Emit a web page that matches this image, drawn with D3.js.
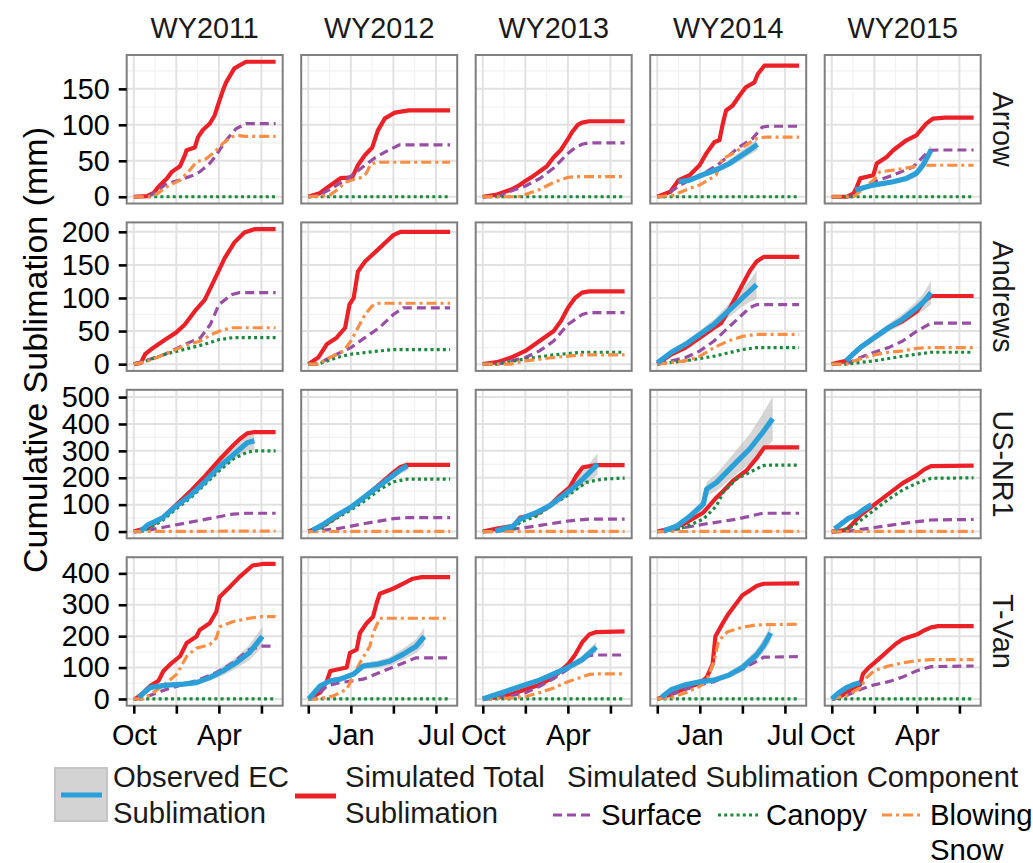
<!DOCTYPE html>
<html><head><meta charset="utf-8">
<script src="https://cdn.jsdelivr.net/npm/d3@7"></script>
<style>
body{margin:0;background:#fff}
text{font-family:"Liberation Sans",Arial,Helvetica,sans-serif}
</style>
</head><body>
<svg id="chart" width="1033" height="863"></svg>
<script>
// Facets: sites (rows) x water years (columns)
const sites = ["Arrow", "Andrews", "US-NR1", "T-Van"];
const years = ["WY2011", "WY2012", "WY2013", "WY2014", "WY2015"];
// x values are months since 1 October
const monthTicks = [0, 3, 6, 9];
const monthLabels = ["Oct", "Jan", "Apr", "Jul"];
const yTicks = [[0, 50, 100, 150], [0, 50, 100, 150, 200], [0, 100, 200, 300, 400, 500], [0, 100, 200, 300, 400]];

// Simulated total sublimation (mm), [month, value] per water year
const totalArrow = [
  [[0,0],[0.93,1],[1.4,5.5],[1.74,13.8],[2.33,25.5],[2.68,34.6],[3.26,42.5],[3.6,57.6],[3.72,64.6],[4.3,68.4],[4.53,83],[4.88,93.2],[5.35,101.5],[5.7,113],[5.93,127],[6.28,147.6],[6.51,159],[7.09,178.5],[7.91,187.7],[10,187.7]],
  [[0,0],[0.8,5],[1.57,16],[2.3,26],[3.1,27],[3.5,44],[4,58],[4.5,68],[4.9,92],[5.4,109],[6.1,117],[7.1,120],[10,120]],
  [[0,0],[1,3],[2,10],[2.5,15],[3,22],[3.5,28],[4,35],[4.5,42],[5,55],[5.5,65],[6,80],[6.3,90],[6.7,100],[7,103],[7.5,105],[10,105]],
  [[0,0],[0.92,6.9],[1.5,23.1],[2.28,30],[2.98,43.8],[3.45,60],[4.03,76.1],[4.38,78.5],[4.62,101.6],[4.85,120],[5.32,126.9],[5.8,140.7],[6.24,152.2],[6.85,159.1],[7.09,170.7],[7.55,182.2],[10,182.2]],
  [[0,0],[1.07,0],[1.54,4.7],[1.77,13.8],[2,25.5],[2.93,30],[3.17,46.2],[3.87,55.4],[4.33,64.6],[5.26,78.5],[5.96,85.4],[6.66,101.6],[7.12,108.5],[8,110],[10,110]]
];
const totalAndrews = [
  [[0,0],[0.5,2],[0.8,15],[1.2,22],[2.2,37],[3,48],[3.6,60],[4.3,80],[5,97],[5.7,128],[6.4,160],[7.1,184],[7.8,199],[8.5,204],[10,204]],
  [[0,0],[0.7,10],[1.3,30],[2,40],[2.6,55],[2.9,90],[3.2,100],[3.5,140],[4,155],[4.5,165],[5,175],[5.5,185],[6,195],[6.5,200],[10,200]],
  [[0,0],[1,3],[2,10],[3,20],[4,35],[5,50],[5.5,65],[6,85],[6.5,100],[7,108],[7.5,110],[10,110]],
  [[0,0],[1,15],[2,25],[3,40],[4,55],[4.5,62],[5,80],[5.5,100],[6,120],[6.5,140],[7,155],[7.5,162],[10,162]],
  [[0,0],[1,5],[2,25],[3,40],[4,55],[5,65],[6,80],[6.5,95],[7,103],[10,103]]
];
const totalNR1 = [
  [[0,0],[1,15],[2,50],[3,100],[4,150],[5,205],[6,265],[7,320],[7.5,345],[8,365],[8.5,370],[10,370]],
  [[0,0],[1,20],[2,55],[3,90],[4,130],[5,175],[6,220],[6.5,240],[7,248],[10,248]],
  [[0,0],[1,11],[2.16,21],[2.63,52],[3.8,65],[4.72,96],[5.42,133],[6.12,164],[6.59,207],[7.05,239],[7.98,247],[10,247]],
  [[0,0],[0.92,11],[1.85,27],[3.25,71],[4.18,127],[4.65,151],[5.34,189],[6.27,226],[6.97,270],[7.55,313],[10,313]],
  [[0,0],[1,5],[1.5,30],[2,60],[3,100],[4,140],[5,180],[6,210],[6.5,230],[7,243],[10,245]]
];
const totalTVan = [
  [[0,0],[0.12,0],[0.7,21],[1.17,42],[1.74,58],[2.09,89],[2.56,110],[3.26,136],[3.73,178],[4.42,199],[4.65,220],[5.35,241],[5.82,278],[6.05,325],[6.75,356],[7.44,388],[8.37,425],[9.07,430],[10,430]],
  [[0,0],[0.85,21],[1.32,58],[1.55,89],[2.71,100],[2.94,147],[3.41,157],[3.64,210],[4.11,241],[4.57,262],[4.81,304],[5.04,335],[5.97,351],[6.9,372],[7.37,383],[8,388],[10,388]],
  [[0,0],[1,5],[2,15],[3,30],[4,45],[5,70],[6,110],[6.5,140],[7,180],[7.5,205],[8,213],[10,215]],
  [[0,0],[1,15],[2,35],[3,50],[3.5,70],[3.9,110],[4.1,200],[4.6,240],[5,270],[5.5,300],[6,330],[6.5,345],[7,360],[7.5,367],[10,368]],
  [[0,0],[0.5,5],[1,20],[1.5,35],[2,45],[2.2,80],[2.6,100],[3,115],[3.5,135],[4,155],[4.5,175],[5,190],[5.5,198],[6,205],[6.5,218],[7,228],[7.5,232],[10,232]]
];

// Surface sublimation component
const surfaceArrow = [
  [[0,0],[1,0],[1.4,4.7],[2.33,18.5],[3.26,23.1],[4.19,30],[4.65,34.6],[5.35,46.2],[5.81,57.7],[6.51,78.5],[7.21,94.6],[7.91,101.6],[10,101.6]],
  [[0,0],[0.7,2],[1.5,10],[2.6,23],[3.3,33],[4,44],[4.7,54],[5.4,62],[6.4,72],[10,72]],
  [[0,0],[1,0],[2,8],[3,15],[4,25],[5,40],[6,60],[6.5,68],[7,73],[7.5,75],[10,75]],
  [[0,0],[0.5,0],[1.5,15],[2.28,23.1],[3.45,34.6],[4.38,46.2],[5.08,57.7],[5.78,69.2],[6.71,80.8],[7.4,96.9],[7.8,98],[10,98]],
  [[0,0],[1.4,0],[1.65,4.7],[2.93,20.8],[4.33,30],[5.73,41.5],[6.89,64.6],[7.5,65],[10,65]]
];
const surfaceAndrews = [
  [[0,0],[0.8,5],[2.2,15],[3.6,30],[4.7,40],[5.4,60],[6,90],[6.9,105],[7.4,108],[10,108]],
  [[0,0],[0.7,0],[1.5,10],[3,25],[4,40],[5,55],[6,75],[6.7,85],[10,85]],
  [[0,0],[1,0],[3,10],[4,20],[5,35],[6,60],[7,75],[7.5,78],[10,78]],
  [[0,0],[2,10],[3,20],[4,35],[5,55],[6,75],[6.5,85],[7,90],[10,90]],
  [[0,0],[1,0],[2,10],[3,18],[4,25],[5,35],[6,50],[7,62],[10,62]]
];
const surfaceNR1 = [
  [[0,0],[0.5,0],[2,15],[4,35],[6,55],[7,65],[8,68],[10,68]],
  [[0,0],[2,10],[4,30],[6,48],[7,52],[10,52]],
  [[0,0],[0.89,0],[3.8,21],[6.12,40],[7.51,46],[10,46]],
  [[0,0],[0.56,2],[3.25,27],[5.58,46],[7.44,68],[10,68]],
  [[0,0],[1,0],[3,15],[5,30],[7,43],[10,45]]
];
const surfaceTVan = [
  [[0,0],[0.47,0],[2.33,31],[4.42,58],[5.82,84],[6.98,115],[8.14,157],[9.07,168],[10,168]],
  [[0,0],[0.38,0],[1.32,42],[2.25,52],[3.87,63],[5.04,84],[6.44,110],[7.6,131],[10,131]],
  [[0,0],[2,10],[3,20],[4,40],[5,65],[6,95],[7,125],[7.5,138],[8,140],[10,140]],
  [[0,0],[2,30],[3,45],[4,55],[5,75],[6,95],[7,120],[7.5,133],[10,135]],
  [[0,0],[1,10],[2,30],[3,45],[4,55],[5,70],[6,90],[7,103],[10,105]]
];

// Canopy sublimation component
const canopyArrow = [
  [[1,0],[10,0]], [[0,0],[10,0]], [[0,0],[10,0]], [[0,0],[10,0]], [[0,0],[10,0]]
];
const canopyAndrews = [
  [[0,0],[0.5,2],[2.2,15],[3.5,22],[5,30],[6,37],[7,40],[10,40]],
  [[0,0],[0.7,0],[2,10],[3,15],[5,20],[6,22],[10,22]],
  [[0,0],[1,0],[3,8],[5,14],[7,18],[10,18]],
  [[0,0],[2,5],[4,12],[5,17],[6,22],[7,25],[10,25]],
  [[0,0],[1,0],[3,5],[5,12],[7,18],[10,18]]
];
const canopyNR1 = [
  [[0,0],[0.5,0],[1,10],[2,40],[3,85],[4,125],[5,175],[6,225],[7,270],[8,295],[8.5,300],[10,300]],
  [[0,0],[1,15],[2,50],[3,80],[4,115],[5,155],[6,185],[7,195],[10,195]],
  [[0,0],[1,3],[2.16,8],[2.63,35],[3.8,58],[4.95,102],[6.12,139],[7.28,183],[8.44,195],[10,199]],
  [[0,0],[0.92,5],[1.85,15],[3.25,46],[4.18,96],[4.65,146],[5.58,195],[6.51,220],[7.44,245],[8,247],[10,247]],
  [[0,0],[0.5,0],[1.5,20],[2,40],[3,80],[4,120],[5,155],[6,180],[7,198],[10,200]]
];
const canopyTVan = [
  [[0,0],[10,0]], [[0,0],[10,0]], [[0,0],[10,0]], [[0,0],[10,0]], [[0,0],[10,0]]
];

// Blowing snow sublimation component
const blowingArrow = [
  [[0,0],[1.2,0],[1.63,3.7],[2.33,13.8],[3.26,23.1],[3.84,34.6],[4.42,48.4],[5.12,53.1],[5.7,62.3],[6.28,73.9],[6.87,83],[7.33,85.4],[7.8,84],[10,84]],
  [[0,0],[1.5,2],[2.2,12],[2.6,20],[3.2,24],[3.8,27],[4.1,33],[4.4,45],[4.8,48],[10,48]],
  [[0,0],[2.5,0],[3,3],[4,10],[5,20],[6,27],[6.5,28],[10,28]],
  [[0,0],[1.15,2.3],[2.28,11.6],[2.98,16.2],[4.15,30],[4.38,43.8],[4.62,53.1],[5.32,60],[6.24,71.5],[6.94,80.8],[7.64,83],[10,83]],
  [[0,0],[1.54,0],[2.93,23],[3.4,34.6],[4.33,37],[5.73,41.5],[6.66,43.8],[10,43.8]]
];
const blowingAndrews = [
  [[0,0],[0.8,3],[2.2,15],[3.6,28],[4.7,35],[5.5,45],[6.3,52],[7,55],[10,55]],
  [[0,0],[0.7,0],[1.5,10],[2.5,20],[3,35],[3.5,55],[4,75],[4.5,88],[5,92],[10,92]],
  [[0,0],[2,0],[3,5],[5,10],[7,14],[10,14]],
  [[0,0],[2,5],[3,12],[4,25],[5,35],[6,42],[7,45],[10,45]],
  [[0,0],[1,0],[2,8],[3,14],[4,18],[5,20],[6,24],[7,25],[10,25]]
];
const blowingNR1 = [
  [[0,0],[10,2]], [[0,0],[10,1]], [[0,0],[10,1]], [[0,0],[10,1]], [[0,0],[10,1]]
];
const blowingTVan = [
  [[0,0],[0.7,0],[1.4,21],[2.33,52],[3.03,79],[3.73,136],[4.42,162],[5.35,173],[5.82,194],[6.05,230],[6.98,246],[8.14,257],[9,262],[10,262]],
  [[0,0],[0.62,0],[1.32,5],[1.78,10],[2.71,31],[3.17,73],[3.64,115],[4.34,168],[4.57,210],[5.04,257],[10,257]],
  [[0,0],[2,3],[3,8],[4,20],[5,35],[6,55],[7,70],[7.5,78],[8,80],[10,80]],
  [[0,0],[1,5],[2,20],[3,40],[3.5,60],[4,120],[4.3,180],[4.7,205],[5,215],[6,228],[7,236],[10,238]],
  [[0,0],[1,10],[2,35],[2.5,70],[3,90],[4,105],[5,115],[6,122],[7,125],[10,125]]
];

// Observed eddy-covariance sublimation: [month, value, uncertainty half-width]
const observedArrow = [null, null, null,
  [[1.5,20.8,3],[2.28,23.1,3],[3.45,32.4,4],[4.38,39.3,4],[5.08,46.2,5],[5.78,55.4,6],[6.48,64.6,7],[7.06,72.9,8]],
  [[1.65,9.3,2],[2.93,16.2,3],[4.33,20.8,3],[5.26,25.5,4],[5.96,32.4,5],[6.42,43.8,7],[7.0,64.6,8]]
];
const observedAndrews = [null, null, null,
  [[0,2,2],[1,18,4],[2,30,5],[3,45,6],[4,60,8],[5,80,10],[6,100,13],[6.5,110,16],[7,120,22]],
  [[1,5,3],[2,25,4],[3,40,5],[4,55,6],[5,68,8],[6,85,10],[6.5,95,13],[7,108,18]]
];
const observedNR1 = [
  [[0.5,2,3],[1,25,5],[2,50,8],[3,95,10],[4,135,12],[5,185,15],[6,240,18],[7,285,22],[8,330,28],[8.5,338,35]],
  [[0.3,5,3],[1,25,5],[2,60,7],[3,90,9],[4,130,10],[5,170,12],[6,210,14],[6.5,230,16],[7,245,18]],
  [[0.89,2,3],[2.16,21,6],[2.63,46,8],[3.8,71,10],[4.72,96,14],[6.12,152,20],[7.05,195,28],[8.1,251,40]],
  [[0.45,2,5],[1.39,21,8],[2.32,58,12],[3.25,102,18],[3.48,158,25],[4.18,183,32],[5.34,245,42],[6.51,307,55],[7.44,369,70],[8.14,420,82]],
  [[0.2,10,4],[0.7,30,6],[1.2,50,8],[1.7,60,8],[2.2,80,10],[2.8,100,12]]
];
const observedTVan = [
  [[0.35,5,4],[1.17,37,5],[2.33,44,5],[3.49,47,6],[4.42,52,7],[5.35,68,10],[6.28,89,14],[7.21,115,18],[8.14,147,24],[9.07,199,32]],
  [[0.03,0,3],[0.85,42,5],[1.55,58,6],[2.25,63,7],[3.18,79,8],[3.87,105,10],[4.81,110,12],[5.74,120,14],[6.67,142,18],[7.6,168,22],[8.18,199,28]],
  [[0,0,2],[1,15,3],[2,30,4],[3,45,5],[4,60,6],[5,80,8],[6,100,10],[7,125,13],[7.5,145,15],[8,165,18]],
  [[0.3,5,3],[1,30,5],[2,45,6],[3,55,7],[4,60,8],[5,75,10],[6,100,13],[7,140,18],[7.5,170,22],[8,210,28]],
  [[0,0,2],[0.5,20,4],[1,35,5],[1.5,45,6],[2,52,7]]
];

const totals = [totalArrow, totalAndrews, totalNR1, totalTVan];
const surfaces = [surfaceArrow, surfaceAndrews, surfaceNR1, surfaceTVan];
const canopies = [canopyArrow, canopyAndrews, canopyNR1, canopyTVan];
const blowings = [blowingArrow, blowingAndrews, blowingNR1, blowingTVan];
const observeds = [observedArrow, observedAndrews, observedNR1, observedTVan];

// ---- layout ----
const svg = d3.select("#chart");
const panelW = 156, panelH = 148.5;
const colStep = 174.5, rowStep = 167.4;
const left0 = 126.7, top0 = 55;
const FS = 28.8;

const styles = {
  total:   {color: "#ec2127", width: 4.2, dash: null},
  surface: {color: "#984ea3", width: 3.2, dash: "9,5"},
  canopy:  {color: "#1b8a3e", width: 3.2, dash: "3,3.2"},
  blowing: {color: "#f98e44", width: 3.2, dash: "10,4,3,4"},
  observed:{color: "#2a9fd8", width: 5.2, dash: null}
};

const x = d3.scaleLinear().domain([-0.5, 10.5]).range([0, panelW]);
const minorX = [1.5, 4.5, 7.5];

sites.forEach((site, r) => {
  // row maximum across every series in the row (free y scales per site)
  let M = 0;
  years.forEach((yr, c) => {
    [totals, surfaces, canopies, blowings].forEach(s => s[r][c].forEach(d => { M = Math.max(M, d[1]); }));
    const ob = observeds[r][c];
    if (ob) ob.forEach(d => { M = Math.max(M, d[1] + d[2]); });
  });
  const y = d3.scaleLinear().domain([-0.05 * M, 1.05 * M]).range([panelH, 0]);
  const ticks = yTicks[r];
  const step = ticks[1] - ticks[0];
  const minorY = ticks.map(t => t + step / 2).filter(v => v < 1.05 * M);

  const line = d3.line().x(d => x(d[0])).y(d => y(d[1]));
  const band = d3.area().x(d => x(d[0]))
    .y0(d => y(Math.max(0, d[1] - d[2]))).y1(d => y(d[1] + d[2]));

  years.forEach((yr, c) => {
    const g = svg.append("g")
      .attr("transform", `translate(${left0 + c * colStep},${top0 + r * rowStep})`);
    g.append("rect").attr("width", panelW).attr("height", panelH).attr("fill", "#fff");
    const clipId = `clip-${r}-${c}`;
    g.append("clipPath").attr("id", clipId)
      .append("rect").attr("width", panelW).attr("height", panelH);

    // grid
    const grid = g.append("g");
    grid.selectAll(".mnx").data(minorX).join("line")
      .attr("x1", d => x(d)).attr("x2", d => x(d)).attr("y1", 0).attr("y2", panelH)
      .attr("stroke", "#f2f2f2").attr("stroke-width", 1.2);
    grid.selectAll(".mny").data(minorY).join("line")
      .attr("y1", d => y(d)).attr("y2", d => y(d)).attr("x1", 0).attr("x2", panelW)
      .attr("stroke", "#f2f2f2").attr("stroke-width", 1.2);
    grid.selectAll(".mjx").data(monthTicks).join("line")
      .attr("x1", d => x(d)).attr("x2", d => x(d)).attr("y1", 0).attr("y2", panelH)
      .attr("stroke", "#e2e2e2").attr("stroke-width", 2);
    grid.selectAll(".mjy").data(ticks).join("line")
      .attr("y1", d => y(d)).attr("y2", d => y(d)).attr("x1", 0).attr("x2", panelW)
      .attr("stroke", "#e2e2e2").attr("stroke-width", 2);

    const plot = g.append("g").attr("clip-path", `url(#${clipId})`);
    const ob = observeds[r][c];
    if (ob) {
      plot.append("path").attr("d", band(ob)).attr("fill", "#bdbdbd").attr("fill-opacity", 0.62);
    }
    const series = [
      ["total", totals[r][c]],
      ["surface", surfaces[r][c]],
      ["canopy", canopies[r][c]],
      ["blowing", blowings[r][c]]
    ];
    if (ob) series.push(["observed", ob]);
    series.forEach(([k, data]) => {
      const st = styles[k];
      plot.append("path").attr("d", line(data))
        .attr("fill", "none").attr("stroke", st.color).attr("stroke-width", st.width)
        .attr("stroke-linejoin", "round")
        .attr("stroke-dasharray", st.dash);
    });

    g.append("rect").attr("width", panelW).attr("height", panelH)
      .attr("fill", "none").attr("stroke", "#7f7f7f").attr("stroke-width", 2);

    // top strip
    if (r === 0) {
      g.append("text").attr("x", panelW / 2).attr("y", -17)
        .attr("text-anchor", "middle").attr("font-size", FS).attr("fill", "#1a1a1a").text(yr);
    }
    // right strip
    if (c === years.length - 1) {
      g.append("text")
        .attr("transform", `translate(${panelW + 22},${panelH / 2}) rotate(90)`)
        .attr("text-anchor", "middle").attr("dy", "0.35em")
        .attr("font-size", FS).attr("fill", "#1a1a1a").text(site);
    }
    // y axis
    if (c === 0) {
      const ax = g.append("g").call(d3.axisLeft(y).tickValues(ticks).tickSize(8).tickPadding(9));
      ax.select(".domain").remove();
      ax.selectAll(".tick line").attr("stroke", "#000").attr("stroke-width", 2.6);
      ax.selectAll(".tick text").attr("font-size", FS).attr("fill", "#000")
        .attr("font-family", "Liberation Sans, Arial, sans-serif");
    }
    // x axis (labels alternate between panels)
    if (r === sites.length - 1) {
      const ax = g.append("g").attr("transform", `translate(0,${panelH})`)
        .call(d3.axisBottom(x).tickValues(monthTicks).tickSize(8).tickPadding(11)
          .tickFormat((d, i) => (i + c) % 2 === 0 ? monthLabels[i] : ""));
      ax.select(".domain").remove();
      ax.selectAll(".tick line").attr("stroke", "#000").attr("stroke-width", 2.6);
      ax.selectAll(".tick text").attr("font-size", FS).attr("fill", "#000")
        .attr("font-family", "Liberation Sans, Arial, sans-serif");
    }
  });
});

// y axis title
svg.append("text")
  .attr("transform", `translate(35,350) rotate(-90)`)
  .attr("text-anchor", "middle").attr("dy", "0.35em")
  .attr("font-size", 34).attr("fill", "#000")
  .text("Cumulative Sublimation (mm)");

// ---- legend ----
const lg = svg.append("g");
const LFS = 29.3;
lg.append("rect").attr("x", 55).attr("y", 768).attr("width", 52).attr("height", 53)
  .attr("fill", "#d3d3d3").attr("stroke", "#c4c4c4").attr("stroke-width", 2);
lg.append("line").attr("x1", 61).attr("x2", 102).attr("y1", 795).attr("y2", 795)
  .attr("stroke", styles.observed.color).attr("stroke-width", 5);
lg.append("text").attr("x", 113).attr("y", 787).attr("font-size", LFS).attr("fill", "#1a1a1a").text("Observed EC");
lg.append("text").attr("x", 113).attr("y", 823).attr("font-size", LFS).attr("fill", "#1a1a1a").text("Sublimation");

lg.append("line").attr("x1", 295).attr("x2", 336).attr("y1", 796).attr("y2", 796)
  .attr("stroke", styles.total.color).attr("stroke-width", 5);
lg.append("text").attr("x", 345).attr("y", 787).attr("font-size", LFS).attr("fill", "#1a1a1a").text("Simulated Total");
lg.append("text").attr("x", 345).attr("y", 823).attr("font-size", LFS).attr("fill", "#1a1a1a").text("Sublimation");

lg.append("text").attr("x", 567).attr("y", 787).attr("font-size", LFS).attr("fill", "#1a1a1a")
  .text("Simulated Sublimation Component");

const compKeys = [
  {k: "surface", x: 553, label: ["Surface"]},
  {k: "canopy", x: 718, label: ["Canopy"]},
  {k: "blowing", x: 882, label: ["Blowing", "Snow"]}
];
compKeys.forEach(o => {
  const st = styles[o.k];
  lg.append("line").attr("x1", o.x).attr("x2", o.x + 40).attr("y1", 815).attr("y2", 815)
    .attr("stroke", st.color).attr("stroke-width", 3.2).attr("stroke-dasharray", st.dash);
  o.label.forEach((t, i) => {
    lg.append("text").attr("x", o.x + 48).attr("y", 825 + i * 35)
      .attr("font-size", LFS).attr("fill", "#000").text(t);
  });
});
</script>
</body></html>
